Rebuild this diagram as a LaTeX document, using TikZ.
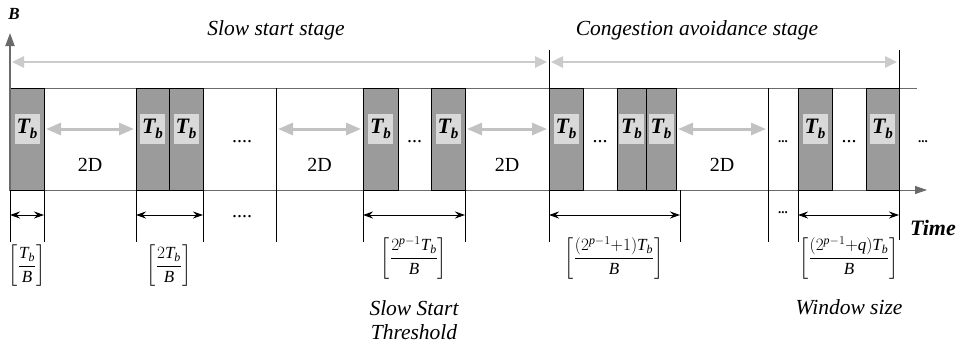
\documentclass[tikz,border=0pt]{standalone}
\usepackage{amsmath}
\usepackage{fontspec}
\setmainfont{Liberation Serif}
\usetikzlibrary{
  arrows.meta,
  positioning,
  calc
}
\definecolor{SlotGray}{HTML}{9B9B9B}
\definecolor{TagGray}{HTML}{D9D9D9}
\definecolor{DelayGray}{HTML}{C2C2C2}
\definecolor{AxisGray}{HTML}{6A6A6A}
\newcommand{\Tb}{T\raisebox{-5pt}{\fontsize{15}{15}\selectfont b}}
\newcommand{\ivl}[1]{$\left[\dfrac{#1}{\mathit{B}}\right]$}
\tikzset{
  % Packet slot: given width, full row height
  slot/.style={
    rectangle, draw=black, fill=SlotGray, line width=0.8pt,
    minimum width=#1, minimum height=102pt,
    inner sep=0pt, outer sep=0pt, anchor=north west
  },
  % T_b tag inside a slot
  tag/.style={
    rectangle, fill=TagGray, minimum width=25pt, minimum height=30pt,
    inner sep=0pt, font=\fontsize{22}{22}\selectfont\bfseries\itshape
  },
  % Gray double arrow (2D gaps)
  garr/.style={
    {Triangle[length=15pt,width=12pt]}-{Triangle[length=15pt,width=12pt]},
    line width=3pt, color=DelayGray, shorten <=2pt, shorten >=2pt
  },
  % Gray double arrow (stages)
  sarr/.style={
    {Triangle[length=12pt,width=11pt]}-{Triangle[length=12pt,width=11pt]},
    line width=2.5pt, color=DelayGray!85, shorten <=2pt, shorten >=2pt
  },
  % Black interval arrow
  karr/.style={
    {Stealth[length=10pt,width=7pt]}-{Stealth[length=10pt,width=7pt]},
    line width=1pt
  },
  % Tick / separator line
  tk/.style={line width=0.8pt},
  % Texts
  lbl/.style={font=\fontsize{20}{20}\selectfont},
  stg/.style={font=\fontsize{21.5}{24}\selectfont\itshape, align=center},
  frc/.style={font=\fontsize{17}{17}\selectfont, inner sep=0pt},
  dts/.style={font=\fontsize{20}{20}\selectfont},
  bdts/.style={font=\fontsize{13}{13}\selectfont\bfseries}
}

\begin{document}
\begin{tikzpicture}[x=1pt, y=-1pt]
  \useasboundingbox (0,0) rectangle (965,346);

  % ---- ROWS ----
  \coordinate (srow) at (0,62);
  \coordinate (mrow) at (0,50);
  \coordinate (tagrow) at (0,129);
  \coordinate (drow) at (0,165);
  \coordinate (dotrow) at (0,142);
  \coordinate (krow) at (0,215);
  \coordinate (o) at (10,190);
  \coordinate (ytop) at (10,33);
  \coordinate (xend) at (927,190);
  \coordinate (s1) at (276,88);
  \coordinate (s2) at (768,88);
  \coordinate (c8) at (680,190);

  % ---- AXES ----
  \draw[AxisGray, line width=0.8pt] (10,88) -- (917,88);
  \draw[AxisGray, line width=0.8pt, -{Triangle[length=12pt,width=8pt]}] (o) -- (xend);

  % ---- SLOTS ----
  \node[slot=34pt] (b1) at (10,88) {};
  \node[slot=33pt] (b2) at (136,88) {};
  \node[slot=34pt, right=0pt of b2] (b3) {};
  \node[slot=35pt] (b4) at (363,88) {};
  \node[slot=34pt] (b5) at (431,88) {};
  \node[slot=34pt] (b6) at (549,88) {};
  \node[slot=29pt] (b7) at (617,88) {};
  \node[slot=30pt, right=0pt of b7] (b8) {};
  \node[slot=34pt] (b9) at (798,88) {};
  \node[slot=33pt] (b10) at (866,88) {};
  \foreach \b in {1,...,10}
    \node[tag] (t\b) at (b\b |- tagrow) {\Tb};

  \draw[AxisGray, line width=2pt, -{Triangle[length=13pt,width=9pt]}] (10,191) -- (ytop);

  % ---- SEPARATORS & TICKS ----
  \draw[tk] (s1) -- ++(0,154);
  \draw[tk] (s2) -- ++(0,154);
  \draw[tk] (b6.north west |- mrow) -- ++(0,192);
  \draw[tk] (b10.north east |- mrow) -- ++(0,190);
  \foreach \p in {b1.south west, b1.south east, b2.south west, b3.south east,
                  b4.south west, b5.south east, b9.south west, c8}
    \draw[tk] (\p) -- ++(0,52);

  % ---- STAGES ----
  \draw[sarr] (ytop |- srow) -- (b6.north west |- srow);
  \draw[sarr] (b6.north west |- srow) -- (b10.north east |- srow);
  \node[stg] (ss) at (276,30) {Slow start stage};
  \node[stg] (ca) at (697,30) {Congestion avoidance stage};

  % ---- 2D GAPS ----
  \coordinate (g1) at ($(b1.east)!0.5!(b2.west)$);
  \coordinate (g2) at ($(s1)!0.5!(b4.west)$);
  \coordinate (g3) at ($(b5.east)!0.5!(b6.west)$);
  \coordinate (g4) at ($(b8.east)!0.5!(s2)$);
  \draw[garr] (b1.east |- tagrow) -- (b2.west |- tagrow);
  \draw[garr] (s1 |- tagrow) -- (b4.west |- tagrow);
  \draw[garr] (b5.east |- tagrow) -- (b6.west |- tagrow);
  \draw[garr] (b8.east |- tagrow) -- (s2 |- tagrow);
  \foreach \g in {1,...,4}
    \node[lbl] (d\g) at (g\g |- drow) {2D};

  % ---- DOTS ----
  \coordinate (h2) at ($(b4.east)!0.5!(b5.west)$);
  \coordinate (h3) at ($(b6.east)!0.5!(b7.west)$);
  \coordinate (h5) at ($(b9.east)!0.5!(b10.west)$);
  \node[dts] (e1) at (242,142) {....};
  \node[dts] (e2) at (h2 |- dotrow) {...};
  \node[dts] (e3) at (h3 |- dotrow) {...};
  \node[bdts] (e4) at (783,142) {...};
  \node[dts] (e5) at (h5 |- dotrow) {...};
  \node[bdts] (e6) at (923,142) {...};
  \node[dts] (e7) at (242,217) {....};
  \node[bdts] (e8) at (783,213) {...};

  % ---- INTERVALS ----
  \draw[karr] (b1.south west |- krow) -- (b1.south east |- krow);
  \draw[karr] (b2.south west |- krow) -- (b3.south east |- krow);
  \draw[karr] (b4.south west |- krow) -- (b5.south east |- krow);
  \draw[karr] (b6.south west |- krow) -- (c8 |- krow);
  \draw[karr] (b9.south west |- krow) -- (b10.south east |- krow);

  \node[frc] (f1) at (27,266) {\ivl{\mathit{T}_{\mathit{b}}}};
  \node[frc] (f2) at (169,266) {\ivl{2\mathit{T}_{\mathit{b}}}};
  \node[frc] (f3) at (414,258) {\ivl{2^{\mathit{p}-1}\mathit{T}_{\mathit{b}}}};
  \node[frc] (f4) at (614,258) {\ivl{(2^{\mathit{p}-1}{+}1)\mathit{T}_{\mathit{b}}}};
  \node[frc] (f5) at (849,258) {\ivl{(2^{\mathit{p}-1}{+}\mathit{q})\mathit{T}_{\mathit{b}}}};

  % ---- TEXTS ----
  \node[stg] (thr) at (414,320) {Slow Start\\Threshold};
  \node[stg] (win) at (849,307) {Window size};
  \node[font=\fontsize{22}{22}\selectfont\bfseries\itshape] (time) at (933,228) {Time};
  \node[font=\fontsize{17}{17}\selectfont\bfseries\itshape] (yb) at (14,14) {B};

\end{tikzpicture}
\end{document}
